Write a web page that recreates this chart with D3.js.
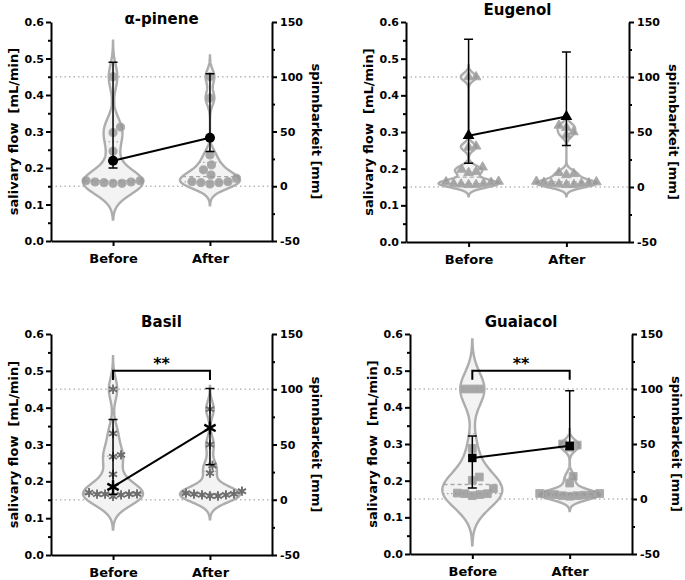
<!DOCTYPE html>
<html>
<head>
<meta charset="utf-8">
<script src="https://cdn.jsdelivr.net/npm/d3@7"></script>
<style>
  body { margin: 0; background: #fff; }
  svg text { font-family: "DejaVu Sans", sans-serif; font-weight: bold; fill: #000; }
</style>
</head>
<body>
<svg id="chart"></svg>
<script>
const width = 685;
const height = 580;

const groups = ["Before", "After"];
const titles = ["α-pinene", "Eugenol", "Basil", "Guaiacol"];

// salivary flow [mL/min] - mean with error bar ends
const flowMean = [[0.220, 0.283], [0.290, 0.342], [0.185, 0.345], [0.262, 0.295]];
const flowLow = [[0.200, 0.245], [0.215, 0.263], [0.165, 0.245], [0.180, 0.285]];
const flowHigh = [[0.490, 0.458], [0.553, 0.518], [0.368, 0.452], [0.322, 0.445]];

// spinnbarkeit [mm] - single values
const pineneBefore = [100, 54, 49, 32, 3.3, 5.1, 3.9, 5.1, 2.7, 3.9, 2.7];
const pineneAfter = [100, 80.5, 28.6, 19.5, 15, 10.3, 7.3, 4.2, 3.3, 2.1, 4.2, 3.3];
const eugenolBefore = [100, 100, 37, 36, 18, 16, 14, 13, 5, 4.5, 4, 3, 3, 2.5, 2, 2];
const eugenolAfter = [56, 54, 50, 47, 13, 12, 11, 5, 4.5, 4, 3.5, 3, 3, 2.5, 2, 2];
const basilBefore = [100, 60, 39, 40.6, 23, 5, 6.5, 5, 5.3, 3, 5, 4.4];
const basilAfter = [82, 50, 31, 24, 4.4, 7.7, 5.3, 6, 3.4, 5, 3.4, 4.4];
const guaiacolBefore = [100, 100, 100, 46, 20, 17, 9.4, 4, 4.8, 5.4, 3, 4.8];
const guaiacolAfter = [50, 49, 47, 20.6, 14.5, 5, 5, 4.5, 4, 4, 3.5, 3, 3, 2.5];

const spinn = [
  [pineneBefore, pineneAfter],
  [eugenolBefore, eugenolAfter],
  [basilBefore, basilAfter],
  [guaiacolBefore, guaiacolAfter]
];

// significance brackets (salivary flow units)
const sigText = [null, null, "**", "**"];
const sigTop = [null, null, 0.50, 0.50];
const sigEnd = [null, null, 0.475, 0.475];

const leftTicks = [0, 0.1, 0.2, 0.3, 0.4, 0.5, 0.6];
const leftMinor = [0.05, 0.15, 0.25, 0.35, 0.45, 0.55];
const rightTicks = [-50, 0, 50, 100, 150];
const rightMinor = [-25, 25, 75, 125];
const refLines = [0, 100];

// layout
const panels = [
  { x0: 51, x1: 272, y0: 22, y1: 241, titleY: 24 },
  { x0: 406, x1: 629, y0: 22, y1: 242, titleY: 15 },
  { x0: 51, x1: 272, y0: 334, y1: 555, titleY: 327 },
  { x0: 410, x1: 632, y0: 334, y1: 554, titleY: 327 }
];
const bandwidths = [[11, 6.5], [3.5, 3.5], [10, 7], [15, 4.5]];
const swarmGap = [9, 7.5, 8, 7.5];
const violinHalf = 30;

const pointSymbols = [d3.symbolCircle, d3.symbolTriangle, d3.symbolAsterisk, d3.symbolSquare];
const pointSizes = [52, 40, 60, 60];
const meanSizes = [80, 60, 120, 72];

const svg = d3.select("#chart").attr("width", width).attr("height", height);

function swarm(vals, y, cx, d) {
  const placed = [];
  vals.slice().sort((a, b) => a - b).forEach(v => {
    const py = y(v);
    let off = 0;
    for (let k = 0; k < 600; k++) {
      const o = (k % 2 ? 1 : -1) * Math.ceil(k / 2) * 0.5;
      if (placed.every(q => (q.x - (cx + o)) ** 2 + (q.y - py) ** 2 >= d * d)) { off = o; break; }
    }
    placed.push({ x: cx + off, y: py });
  });
  return placed;
}

panels.forEach((p, i) => {
  const g = svg.append("g");
  const yL = d3.scaleLinear().domain([0, 0.6]).range([p.y1, p.y0]);
  const yR = d3.scaleLinear().domain([-50, 150]).range([p.y1, p.y0]);
  const x = d3.scalePoint().domain(groups).range([p.x0, p.x1]).padding(0.64);

  // dotted reference lines
  g.selectAll(".ref").data(refLines).join("line")
    .attr("x1", p.x0).attr("x2", p.x1)
    .attr("y1", d => yR(d)).attr("y2", d => yR(d))
    .attr("stroke", "#b8b8b8").attr("stroke-width", 1.4)
    .attr("stroke-dasharray", "1.5,3");

  groups.forEach((grp, j) => {
    const vals = spinn[i][j];
    const h = bandwidths[i][j];
    const cx = x(grp);
    const lo = d3.min(vals) - 3 * h, hi = d3.max(vals) + 3 * h;
    const kde = v => d3.sum(vals, d => Math.exp(-0.5 * ((v - d) / h) ** 2));
    const samples = d3.range(0, 201).map(k => lo + (hi - lo) * k / 200);
    const dens = samples.map(v => ({ v, d: kde(v) }));
    const w = d3.scaleLinear().domain([0, d3.max(dens, d => d.d)]).range([0, violinHalf]);

    g.append("path")
      .datum(dens)
      .attr("d", d3.area().x0(d => cx - w(d.d)).x1(d => cx + w(d.d)).y(d => yR(d.v)))
      .attr("fill", "#f3f3f3")
      .attr("stroke", "#adadad")
      .attr("stroke-width", 2.4);

    // median and quartiles
    const sorted = vals.slice().sort(d3.ascending);
    [[0.25, "1.5,2.5"], [0.5, "4,3"], [0.75, "1.5,2.5"]].forEach(([q, dash]) => {
      const qv = d3.quantile(sorted, q);
      const hw = w(kde(qv));
      g.append("line")
        .attr("x1", cx - hw).attr("x2", cx + hw)
        .attr("y1", yR(qv)).attr("y2", yR(qv))
        .attr("stroke", "#a8a8a8").attr("stroke-width", 1.3)
        .attr("stroke-dasharray", dash);
    });

    // points
    const pts = swarm(vals, yR, cx, swarmGap[i]);
    const isStroke = pointSymbols[i] === d3.symbolAsterisk;
    g.selectAll(null).data(pts).join("path")
      .attr("transform", d => `translate(${d.x},${d.y})`)
      .attr("d", d3.symbol(pointSymbols[i], pointSizes[i]))
      .attr("fill", isStroke ? "none" : "#959595")
      .attr("fill-opacity", 0.82)
      .attr("stroke", isStroke ? "#6e6e6e" : "#ababab")
      .attr("stroke-width", isStroke ? 1.9 : 1);
  });

  // error bars
  groups.forEach((grp, j) => {
    const cx = x(grp);
    g.append("path")
      .attr("d", `M${cx},${yL(flowLow[i][j])}V${yL(flowHigh[i][j])}` +
        `M${cx - 4.5},${yL(flowLow[i][j])}H${cx + 4.5}` +
        `M${cx - 4.5},${yL(flowHigh[i][j])}H${cx + 4.5}`)
      .attr("stroke", "#000").attr("stroke-width", 1.5).attr("fill", "none");
  });

  // mean line + markers
  g.append("path")
    .datum(groups)
    .attr("d", d3.line().x(d => x(d)).y((d, j) => yL(flowMean[i][j])))
    .attr("stroke", "#000").attr("stroke-width", 2).attr("fill", "none");

  const isStroke = pointSymbols[i] === d3.symbolAsterisk;
  g.selectAll(".mean").data(groups).join("path")
    .attr("transform", (d, j) => `translate(${x(d)},${yL(flowMean[i][j])})`)
    .attr("d", d3.symbol(pointSymbols[i], meanSizes[i]))
    .attr("fill", isStroke ? "none" : "#000")
    .attr("stroke", "#000")
    .attr("stroke-width", isStroke ? 2.4 : 0);

  // significance bracket
  if (sigText[i]) {
    g.append("path")
      .attr("d", `M${x("Before")},${yL(sigEnd[i])}V${yL(sigTop[i])}H${x("After")}V${yL(sigEnd[i])}`)
      .attr("stroke", "#000").attr("stroke-width", 2).attr("fill", "none");
    g.append("text")
      .attr("x", (x("Before") + x("After")) / 2)
      .attr("y", yL(sigTop[i]) - 2)
      .attr("text-anchor", "middle")
      .style("font-size", "16px")
      .text(sigText[i]);
  }

  // axes
  const left = g.append("g").attr("transform", `translate(${p.x0},0)`)
    .call(d3.axisLeft(yL).tickValues(leftTicks).tickFormat(d3.format(".1f"))
      .tickSize(5).tickSizeOuter(0).tickPadding(2));
  g.append("g").attr("transform", `translate(${p.x0},0)`)
    .call(d3.axisLeft(yL).tickValues(leftMinor).tickFormat("").tickSize(3).tickSizeOuter(0))
    .call(a => a.select(".domain").remove());

  const right = g.append("g").attr("transform", `translate(${p.x1},0)`)
    .call(d3.axisRight(yR).tickValues(rightTicks).tickFormat(d => String(d))
      .tickSize(5).tickSizeOuter(0).tickPadding(3));
  g.append("g").attr("transform", `translate(${p.x1},0)`)
    .call(d3.axisRight(yR).tickValues(rightMinor).tickFormat("").tickSize(3).tickSizeOuter(0))
    .call(a => a.select(".domain").remove());

  const bottom = g.append("g").attr("transform", `translate(0,${p.y1})`)
    .call(d3.axisBottom(x).tickSize(5).tickSizeOuter(0).tickPadding(8));

  g.selectAll(".domain, .tick line").attr("stroke", "#000").attr("stroke-width", 2);
  left.selectAll("text").style("font-size", "11px").attr("font-family", null);
  right.selectAll("text").style("font-size", "11px").attr("font-family", null);
  bottom.selectAll("text").style("font-size", "13px").attr("font-family", null);

  // titles
  g.append("text")
    .attr("x", (p.x0 + p.x1) / 2).attr("y", p.titleY)
    .attr("text-anchor", "middle")
    .style("font-size", "15px")
    .text(titles[i]);

  g.append("text")
    .attr("transform", `translate(${p.x0 - 33},${(p.y0 + p.y1) / 2}) rotate(-90)`)
    .attr("text-anchor", "middle")
    .style("font-size", "13px")
    .style("white-space", "pre")
    .text("salivary flow  [mL/min]");

  g.append("text")
    .attr("transform", `translate(${p.x1 + 40},${(p.y0 + p.y1) / 2}) rotate(90)`)
    .attr("text-anchor", "middle")
    .style("font-size", "13px")
    .text("spinnbarkeit [mm]");
});
</script>
</body>
</html>
